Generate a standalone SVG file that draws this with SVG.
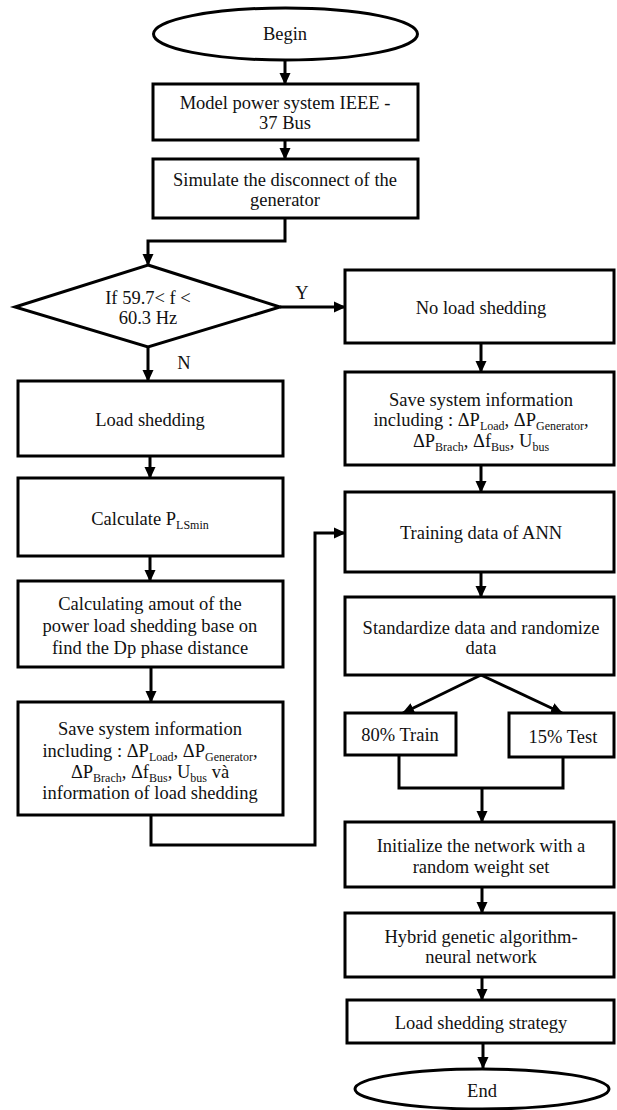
<svg xmlns="http://www.w3.org/2000/svg" width="617" height="1110" viewBox="0 0 617 1110">
<style>
.b{fill:#fff;stroke:#000;stroke-width:3}
.c{fill:none;stroke:#000;stroke-width:3}
.a{marker-end:url(#ah)}
text{font-family:"Liberation Serif","Times New Roman",serif;font-size:18.5px;fill:#111;text-anchor:middle}
.s{font-size:12px}
</style>
<defs>
<marker id="ah" markerUnits="userSpaceOnUse" markerWidth="12" markerHeight="12" refX="11" refY="6" orient="auto">
<path d="M0,0.5 L12,6 L0,11.5 Z" fill="#000"/>
</marker>
</defs>
<g id="connectors">
<path class="c a" d="M285,60 V84"/>
<path class="c a" d="M285,140 V159"/>
<path class="c a" d="M285,218 V241 H148 V265"/>
<path class="c a" d="M280,307 H345"/>
<path class="c a" d="M148,347 V381"/>
<path class="c a" d="M150,456 V478"/>
<path class="c a" d="M150,556 V581"/>
<path class="c a" d="M151,667 V702"/>
<path class="c a" d="M151,815 V845 H315 V533 H345"/>
<path class="c a" d="M481,343 V372"/>
<path class="c a" d="M481,465 V492"/>
<path class="c a" d="M481,572 V597"/>
<path class="c a" d="M481,675 L403,713"/>
<path class="c a" d="M481,675 L562,713"/>
<path class="c" d="M399,755 V788 H563 V757"/>
<path class="c a" d="M482,788 V822"/>
<path class="c a" d="M482,887 V913"/>
<path class="c a" d="M482,977 V1000"/>
<path class="c a" d="M483,1043 V1068"/>
</g>
<g id="begin">
<ellipse class="b" cx="285.5" cy="34" rx="132" ry="26"/>
<text x="285" y="40">Begin</text>
</g>
<g id="model">
<rect class="b" x="153" y="84" width="265" height="56"/>
<text x="285" y="109">Model power system  IEEE -</text>
<text x="285" y="129">37 Bus</text>
</g>
<g id="simulate">
<rect class="b" x="153" y="159" width="265" height="59"/>
<text x="285" y="186">Simulate the disconnect of the</text>
<text x="285" y="206">generator</text>
</g>
<g id="decision">
<polygon class="b" points="148,265 280,307 148,347 15,307"/>
<text x="148" y="304">If 59.7&lt; f &lt;</text>
<text x="148" y="324">60.3 Hz</text>
</g>
<g id="labelY"><text x="302" y="299">Y</text></g>
<g id="labelN"><text x="184" y="369">N</text></g>
<g id="no-shedding">
<rect class="b" x="345" y="270" width="269" height="73"/>
<text x="481" y="314">No load shedding</text>
</g>
<g id="save-right">
<rect class="b" x="345" y="372" width="269" height="93"/>
<text x="481" y="406">Save system information</text>
<text x="481" y="426">including : ΔP<tspan class="s" dy="4">Load</tspan><tspan dy="-4">, ΔP</tspan><tspan class="s" dy="4">Generator</tspan><tspan dy="-4">,</tspan></text>
<text x="481" y="447">ΔP<tspan class="s" dy="4">Brach</tspan><tspan dy="-4">, Δf</tspan><tspan class="s" dy="4">Bus</tspan><tspan dy="-4">, U</tspan><tspan class="s" dy="4">bus</tspan></text>
</g>
<g id="training">
<rect class="b" x="345" y="492" width="269" height="80"/>
<text x="481" y="539">Training data of ANN</text>
</g>
<g id="standardize">
<rect class="b" x="345" y="597" width="269" height="78"/>
<text x="481" y="634">Standardize  data and randomize</text>
<text x="481" y="654">data</text>
</g>
<g id="train80">
<rect class="b" x="345" y="713" width="111" height="42"/>
<text x="400" y="741">80% Train</text>
</g>
<g id="test15">
<rect class="b" x="509" y="713" width="105" height="44"/>
<text x="563" y="743">15% Test</text>
</g>
<g id="initialize">
<rect class="b" x="345" y="822" width="269" height="65"/>
<text x="481" y="852">Initialize the network with a</text>
<text x="481" y="873">random weight set</text>
</g>
<g id="hybrid">
<rect class="b" x="345" y="913" width="269" height="64"/>
<text x="481" y="943">Hybrid genetic algorithm-</text>
<text x="481" y="963">neural network</text>
</g>
<g id="strategy">
<rect class="b" x="347" y="1000" width="267" height="43"/>
<text x="481" y="1029">Load shedding strategy</text>
</g>
<g id="end">
<ellipse class="b" cx="482" cy="1089" rx="127" ry="20"/>
<text x="482" y="1097">End</text>
</g>
<g id="load-shedding">
<rect class="b" x="18" y="381" width="265" height="75"/>
<text x="150" y="426">Load shedding</text>
</g>
<g id="calculate">
<rect class="b" x="18" y="478" width="265" height="78"/>
<text x="150" y="525">Calculate P<tspan class="s" dy="4">LSmin</tspan></text>
</g>
<g id="calculating">
<rect class="b" x="18" y="581" width="265" height="86"/>
<text x="150" y="610">Calculating amout of the</text>
<text x="150" y="632">power load shedding base on</text>
<text x="150" y="654">find the Dp phase distance</text>
</g>
<g id="save-left">
<rect class="b" x="18" y="702" width="265" height="113"/>
<text x="150" y="735">Save system information</text>
<text x="150" y="757">including : ΔP<tspan class="s" dy="4">Load</tspan><tspan dy="-4">, ΔP</tspan><tspan class="s" dy="4">Generator</tspan><tspan dy="-4">,</tspan></text>
<text x="150" y="778">ΔP<tspan class="s" dy="4">Brach</tspan><tspan dy="-4">, Δf</tspan><tspan class="s" dy="4">Bus</tspan><tspan dy="-4">, U</tspan><tspan class="s" dy="4">bus</tspan><tspan dy="-4"> và</tspan></text>
<text x="150" y="799">information of load shedding</text>
</g>
</svg>
